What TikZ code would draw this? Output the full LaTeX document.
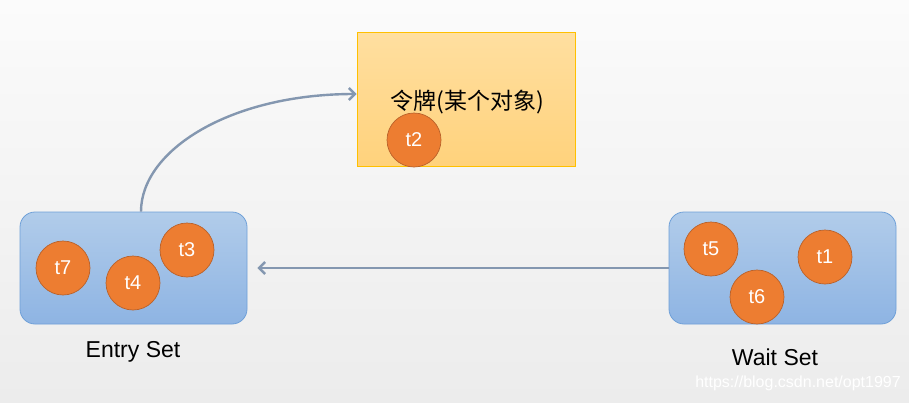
\documentclass[tikz,border=0pt]{standalone}
\usepackage{fontspec}
\setmainfont{Liberation Sans}
\newfontfamily\cjk{Noto Sans CJK SC}
\usetikzlibrary{arrows.meta}
\definecolor{bgtop}{HTML}{FBFBFB}
\definecolor{bgbot}{HTML}{ECECEC}
\definecolor{tokentop}{HTML}{FFDFA0}
\definecolor{tokenbot}{HTML}{FFD27C}
\definecolor{tokenedge}{HTML}{FFC000}
\definecolor{settop}{HTML}{B1CCEA}
\definecolor{setbot}{HTML}{8EB4E3}
\definecolor{setedge}{HTML}{6FA0D8}
\definecolor{thread}{HTML}{ED7D31}
\definecolor{threadedge}{HTML}{B9612A}
\definecolor{conncol}{HTML}{8497B0}
\definecolor{markcol}{HTML}{FFFFFF}
\tikzset{
  setbox/.style={rounded corners=15pt, draw=setedge, line width=0.8pt,
    top color=settop, bottom color=setbot, minimum width=227pt, minimum height=112pt, inner sep=0pt},
  tokenbox/.style={draw=tokenedge, line width=0.8pt, top color=tokentop, bottom color=tokenbot,
    minimum width=218pt, minimum height=134pt, inner sep=0pt},
  thr/.style={circle, fill=thread, draw=threadedge, line width=0.7pt, minimum size=54pt, inner sep=0pt,
    text=white, font=\fontsize{20}{24}\selectfont},
  lbl/.style={font=\fontsize{23}{27}\selectfont, text=black, inner sep=0pt},
  conn/.style={draw=conncol, line width=2.4pt, -{Straight Barb[length=6pt,width=12pt]}}
}
\begin{document}
\begin{tikzpicture}[x=1pt,y=-1pt]
\shade[top color=bgtop, bottom color=bgbot] (0,0) rectangle (909,402);
\useasboundingbox (0,0) rectangle (909,402);

% token
\node[tokenbox] (token) at (466,99) {};
\node[inner sep=0pt, font=\cjk\fontsize{23}{27}\selectfont] (tokentext) at (467,102) {令牌(某个对象)};
\node[thr] (t2) at (414,140) {t2};

% entry set
\node[setbox] (entry) at (133.5,268) {};
\node[thr] (t7) at (63,268) {t7};
\node[thr] (t4) at (133,283) {t4};
\node[thr] (t3) at (187,250) {t3};
\node[lbl] (entrylbl) at (133,352) {Entry Set};

% wait set
\node[setbox] (wait) at (782.5,268) {};
\node[thr] (t5) at (711,249) {t5};
\node[thr] (t1) at (825,257) {t1};
\node[thr] (t6) at (757,297) {t6};
\node[lbl] (waitlbl) at (775,357) {Wait Set};

% watermark
\node[inner sep=0pt, text=markcol, font=\fontsize{16}{19}\selectfont] (mark) at (798,383) {https://blog.csdn.net/opt1997};

% connectors
\draw[conn, shorten >=10pt] (wait.west) -- (entry.east);
\draw[conn] ([xshift=7.5pt]entry.north) .. controls +(0,-61) and +(-127,0) .. ([yshift=5pt]token.west);
\end{tikzpicture}
\end{document}
